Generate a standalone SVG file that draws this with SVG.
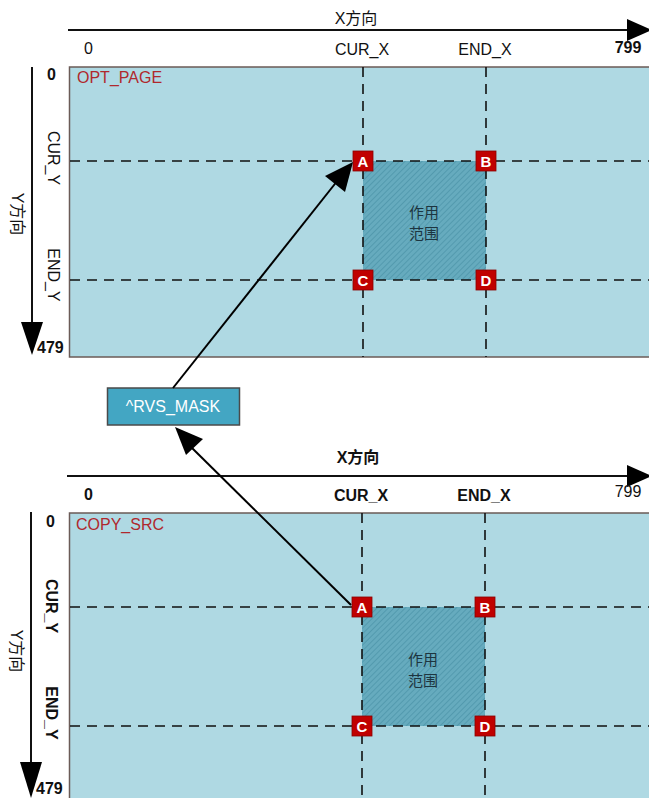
<svg xmlns="http://www.w3.org/2000/svg" width="649" height="798" viewBox="0 0 649 798">
<defs>
<pattern id="hatch" width="4" height="4" patternUnits="userSpaceOnUse" patternTransform="rotate(45)">
<rect width="4" height="4" fill="#66abbe"/>
<line x1="0" y1="0" x2="0" y2="4" stroke="#468ea3" stroke-width="1.2"/>
</pattern>
</defs>
<style>
text{font-family:"Liberation Sans","Noto Sans CJK SC",sans-serif;fill:#111}
.lbl{font-size:16px}
.b{font-weight:bold}
.panel{fill:#afd9e3;stroke:#6b5b57;stroke-width:1.5}
.dash{stroke:#111;stroke-width:1.6;stroke-dasharray:10,7;fill:none}
.area{fill:url(#hatch)}
.pt rect{fill:#c00000;stroke:#8a0000;stroke-width:0.8}
.pt text{fill:#fff;font-size:15px;font-weight:bold;text-anchor:middle}
.name{fill:#b0282d;font-size:16px}
.axis{stroke:#111;stroke-width:2;fill:none}
.head{fill:#000}
.cn{font-size:15px;fill:#1d3540;text-anchor:middle}
.conn{stroke:#000;stroke-width:2;fill:none}
</style>

<g id="top-panel">
<rect class="panel" x="69.5" y="67" width="600" height="290"/>
<rect class="area" x="363" y="161" width="123" height="119"/>
<line class="dash" x1="363" y1="67" x2="363" y2="357"/>
<line class="dash" x1="486" y1="67" x2="486" y2="357"/>
<line class="dash" x1="70" y1="161" x2="649" y2="161"/>
<line class="dash" x1="70" y1="280" x2="649" y2="280"/>
<text class="name" x="77" y="83">OPT_PAGE</text>
<text class="cn" x="424" y="218">作用</text>
<text class="cn" x="424" y="239">范围</text>
</g>

<g id="top-axes">
<line class="axis" x1="68" y1="30" x2="630" y2="30"/>
<polygon class="head" points="627,19 652,30 627,41"/>
<line class="axis" x1="32" y1="67" x2="32" y2="325"/>
<polygon class="head" points="21,322 43,322 32,355"/>
<text class="lbl" x="356" y="24" text-anchor="middle">X方向</text>
<text class="lbl" x="84" y="54">0</text>
<text class="lbl" x="362" y="55" text-anchor="middle">CUR_X</text>
<text class="lbl" x="485" y="55" text-anchor="middle">END_X</text>
<text class="lbl b" x="628" y="53" text-anchor="middle">799</text>
<text class="lbl b" x="47" y="80">0</text>
<text class="lbl b" x="37" y="353">479</text>
<text class="lbl" transform="translate(48,158) rotate(90)" text-anchor="middle">CUR_Y</text>
<text class="lbl" transform="translate(48,275) rotate(90)" text-anchor="middle">END_Y</text>
<text class="lbl" transform="translate(12,214) rotate(90)" text-anchor="middle">Y方向</text>
</g>

<g id="top-points" class="pt">
<g id="tA"><rect x="353" y="151" width="20" height="20"/><text x="363" y="166.5">A</text></g>
<g id="tB"><rect x="476" y="151" width="20" height="20"/><text x="486" y="166.5">B</text></g>
<g id="tC"><rect x="353" y="270" width="20" height="20"/><text x="363" y="285.5">C</text></g>
<g id="tD"><rect x="476" y="270" width="20" height="20"/><text x="486" y="285.5">D</text></g>
</g>

<g id="mask">
<rect x="107.5" y="388" width="132" height="37" fill="#43a6c3" stroke="#4a4a4a" stroke-width="1.5"/>
<text x="173" y="412" font-size="16" text-anchor="middle" style="fill:#fff">^RVS_MASK</text>
</g>

<g id="bottom-panel">
<rect class="panel" x="69.5" y="513" width="600" height="300"/>
<rect class="area" x="362" y="607" width="123" height="119"/>
<line class="dash" x1="362" y1="513" x2="362" y2="798"/>
<line class="dash" x1="485" y1="513" x2="485" y2="798"/>
<line class="dash" x1="70" y1="607" x2="649" y2="607"/>
<line class="dash" x1="70" y1="726" x2="649" y2="726"/>
<text class="name" x="76" y="530">COPY_SRC</text>
<text class="cn" x="423" y="665">作用</text>
<text class="cn" x="423" y="686">范围</text>
</g>

<g id="bottom-axes">
<line class="axis" x1="67" y1="476" x2="630" y2="476"/>
<polygon class="head" points="627,465 652,476 627,487"/>
<line class="axis" x1="31" y1="512" x2="31" y2="765"/>
<polygon class="head" points="20,762 42,762 31,798"/>
<text class="lbl b" x="358" y="463" text-anchor="middle">X方向</text>
<text class="lbl b" x="84" y="500">0</text>
<text class="lbl b" x="361" y="501" text-anchor="middle">CUR_X</text>
<text class="lbl b" x="484" y="501" text-anchor="middle">END_X</text>
<text class="lbl" x="628" y="497" text-anchor="middle">799</text>
<text class="lbl b" x="46" y="527">0</text>
<text class="lbl b" x="36" y="794">479</text>
<text class="lbl b" transform="translate(46,606) rotate(90)" text-anchor="middle">CUR_Y</text>
<text class="lbl b" transform="translate(46,713) rotate(90)" text-anchor="middle">END_Y</text>
<text class="lbl" transform="translate(11,651) rotate(90)" text-anchor="middle">Y方向</text>
</g>

<g id="bottom-points" class="pt">
<g id="bA"><rect x="352" y="597" width="20" height="20"/><text x="362" y="612.5">A</text></g>
<g id="bB"><rect x="475" y="597" width="20" height="20"/><text x="485" y="612.5">B</text></g>
<g id="bC"><rect x="352" y="716" width="20" height="20"/><text x="362" y="731.5">C</text></g>
<g id="bD"><rect x="475" y="716" width="20" height="20"/><text x="485" y="731.5">D</text></g>
</g>

<g id="connectors">
<line class="conn" x1="173" y1="388" x2="338" y2="180"/>
<polygon class="head" points="353,162 345,192 325,176"/>
<line class="conn" x1="351" y1="605" x2="190" y2="446"/>
<polygon class="head" points="175,427 203,439 186,455"/>
</g>
</svg>
